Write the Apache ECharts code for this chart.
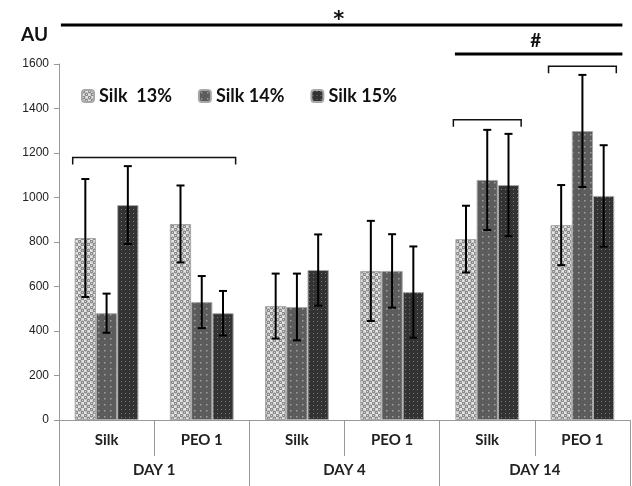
<!DOCTYPE html>
<html>
<head>
<meta charset="utf-8">
<script src="https://cdn.jsdelivr.net/npm/echarts@6/dist/echarts.min.js"></script>
<style>
  html, body { margin: 0; padding: 0; background: #fff; }
  #main { width: 632px; height: 486px; }
</style>
</head>
<body>
<div id="main"></div>
<script>
// data
var categories = ['Silk', 'PEO 1', 'Silk', 'PEO 1', 'Silk', 'PEO 1'];
var days = ['DAY 1', 'DAY 4', 'DAY 14'];
var seriesNames = ['Silk  13%', 'Silk 14%', 'Silk 15%'];
var silk13 = [818, 881, 512, 670, 813, 876];
var silk14 = [480, 530, 508, 670, 1079, 1299];
var silk15 = [966, 480, 674, 575, 1056, 1007];
var err13 = [265, 173, 146, 225, 150, 180];
var err14 = [88, 117, 150, 165, 225, 252];
var err15 = [175, 100, 160, 205, 230, 228];

// significance brackets over bar groups: first cat, last cat, level
var bracketStart = [0, 4, 5];
var bracketEnd = [1, 4, 5];
var bracketLevel = [1180, 1350, 1590];

// significance lines above plot: span in category units, level, mark
var sigFrom = [-0.48, 3.66];
var sigTo = [5.42, 5.42];
var sigLevel = [1775, 1645];
var sigMark = ['*', '#'];

var catGap = 0.33;

function makePattern(w, h, draw) {
    var c = document.createElement('canvas');
    c.width = w; c.height = h;
    draw(c.getContext('2d'));
    return { image: c, repeat: 'repeat' };
}
var pat13 = makePattern(6, 6, function (ctx) {
    ctx.fillStyle = '#e4e4e4';
    ctx.fillRect(0, 0, 6, 6);
    ctx.fillStyle = '#8c8c8c';
    ctx.beginPath(); ctx.arc(1.5, 1.5, 1.9, 0, Math.PI * 2); ctx.fill();
    ctx.beginPath(); ctx.arc(4.5, 4.5, 1.9, 0, Math.PI * 2); ctx.fill();
    ctx.fillStyle = '#d0d0d0';
    ctx.fillRect(1, 1, 1, 1);
    ctx.fillRect(4, 4, 1, 1);
});
var pat14 = makePattern(6, 6, function (ctx) {
    ctx.fillStyle = '#5c5c5c';
    ctx.fillRect(0, 0, 6, 6);
    ctx.fillStyle = '#a0a0a0';
    ctx.fillRect(2, 2, 1.5, 1.5);
});
var pat15 = makePattern(4, 4, function (ctx) {
    ctx.fillStyle = '#333333';
    ctx.fillRect(0, 0, 4, 4);
    ctx.fillStyle = '#7a7a7a';
    ctx.fillRect(1, 1, 1, 1);
});

var myChart = echarts.init(document.getElementById('main'));

function barSeries(name, data, pat) {
    return {
        name: name,
        type: 'bar',
        data: data,
        barGap: '0%',
        barCategoryGap: (catGap * 100) + '%',
        itemStyle: { color: pat, borderColor: '#a8a8a8', borderWidth: 1 }
    };
}

function errSeries(idx, means, errs) {
    var data = means.map(function (m, i) { return [i, m, errs[i]]; });
    return {
        type: 'custom',
        data: data,
        z: 10,
        silent: true,
        renderItem: function (params, api) {
            var band = api.size([1, 0])[0];
            var barW = band * (1 - catGap) / 3;
            var mean = api.value(1), err = api.value(2);
            var x = api.coord([api.value(0), mean])[0] + (idx - 1) * barW;
            var yTop = api.coord([api.value(0), mean + err])[1];
            var yBot = api.coord([api.value(0), mean - err])[1];
            var cap = 4;
            var st = { stroke: '#000', lineWidth: 2 };
            return {
                type: 'group',
                children: [
                    { type: 'line', shape: { x1: x, y1: yTop, x2: x, y2: yBot }, style: st },
                    { type: 'line', shape: { x1: x - cap, y1: yTop, x2: x + cap, y2: yTop }, style: st },
                    { type: 'line', shape: { x1: x - cap, y1: yBot, x2: x + cap, y2: yBot }, style: st }
                ]
            };
        }
    };
}

var option = {
    animation: false,
    grid: { left: 59, right: 2, top: 64, bottom: 66 },
    legend: {
        data: seriesNames,
        left: 76,
        top: 82,
        itemWidth: 12,
        itemHeight: 12,
        itemGap: 26,
        textStyle: { fontFamily: 'Lato', fontWeight: 'bold', fontSize: 18, color: '#111' }
    },
    xAxis: [
        {
            type: 'category',
            data: categories,
            axisLine: { lineStyle: { color: '#999', width: 1 } },
            axisTick: { show: true, length: 36, lineStyle: { color: '#999' } },
            axisLabel: { margin: 13, fontFamily: 'Lato', fontWeight: 'bold', fontSize: 15, color: '#222' }
        },
        {
            type: 'category',
            data: days,
            position: 'bottom',
            axisLine: { show: false },
            axisTick: { show: true, length: 68, lineStyle: { color: '#999' } },
            axisLabel: { margin: 43, fontFamily: 'Lato', fontWeight: 'bold', fontSize: 15, color: '#222' }
        }
    ],
    yAxis: {
        type: 'value',
        min: 0,
        max: 1600,
        interval: 200,
        name: 'AU',
        nameLocation: 'end',
        nameGap: 20,
        nameTextStyle: { align: 'right', padding: [0, 11, 0, 0], fontFamily: 'Lato', fontWeight: 'bold', fontSize: 19, color: '#111' },
        axisLine: { show: true, lineStyle: { color: '#999' } },
        axisTick: { show: true, length: 5, lineStyle: { color: '#999' } },
        splitLine: { show: false },
        axisLabel: {
            margin: 10, fontFamily: 'Liberation Sans', fontSize: 12, color: '#222',
            formatter: function (v) { return String(v); }
        }
    },
    series: [
        barSeries(seriesNames[0], silk13, pat13),
        barSeries(seriesNames[1], silk14, pat14),
        barSeries(seriesNames[2], silk15, pat15),
        errSeries(0, silk13, err13),
        errSeries(1, silk14, err14),
        errSeries(2, silk15, err15),
        {
            type: 'custom',
            silent: true,
            z: 11,
            data: bracketStart.map(function (s, i) { return [s, bracketEnd[i], bracketLevel[i]]; }),
            renderItem: function (params, api) {
                var band = api.size([1, 0])[0];
                var barW = band * (1 - catGap) / 3;
                var y = api.coord([0, api.value(2)])[1];
                var l = api.coord([api.value(0), 0])[0] - 1.5 * barW - 2;
                var r = api.coord([api.value(1), 0])[0] + 1.5 * barW + 2;
                return {
                    type: 'polyline',
                    shape: { points: [[l, y + 7], [l, y], [r, y], [r, y + 7]] },
                    style: { stroke: '#111', lineWidth: 1.5, fill: null }
                };
            }
        },
        {
            type: 'custom',
            silent: true,
            clip: false,
            z: 11,
            data: sigFrom.map(function (f, i) { return [f, sigTo[i], sigLevel[i], i]; }),
            renderItem: function (params, api) {
                var band = api.size([1, 0])[0];
                var x0 = api.coord([0, 0])[0];
                var y = api.coord([0, api.value(2)])[1];
                var l = x0 + api.value(0) * band;
                var r = x0 + api.value(1) * band;
                var mark = sigMark[api.value(3)];
                return {
                    type: 'group',
                    children: [
                        { type: 'line', shape: { x1: l, y1: y, x2: r, y2: y }, style: { stroke: '#000', lineWidth: 3 } },
                        {
                            type: 'text',
                            x: (l + r) / 2 - 3,
                            y: mark === '*' ? y + 6 : y - 4,
                            style: {
                                text: mark,
                                fill: '#111',
                                font: mark === '*' ? 'bold 21px "DejaVu Sans"' : 'bold 19px Lato',
                                align: 'center',
                                verticalAlign: 'bottom'
                            }
                        }
                    ]
                };
            }
        }
    ]
};
myChart.setOption(option);
</script>
</body>
</html>
